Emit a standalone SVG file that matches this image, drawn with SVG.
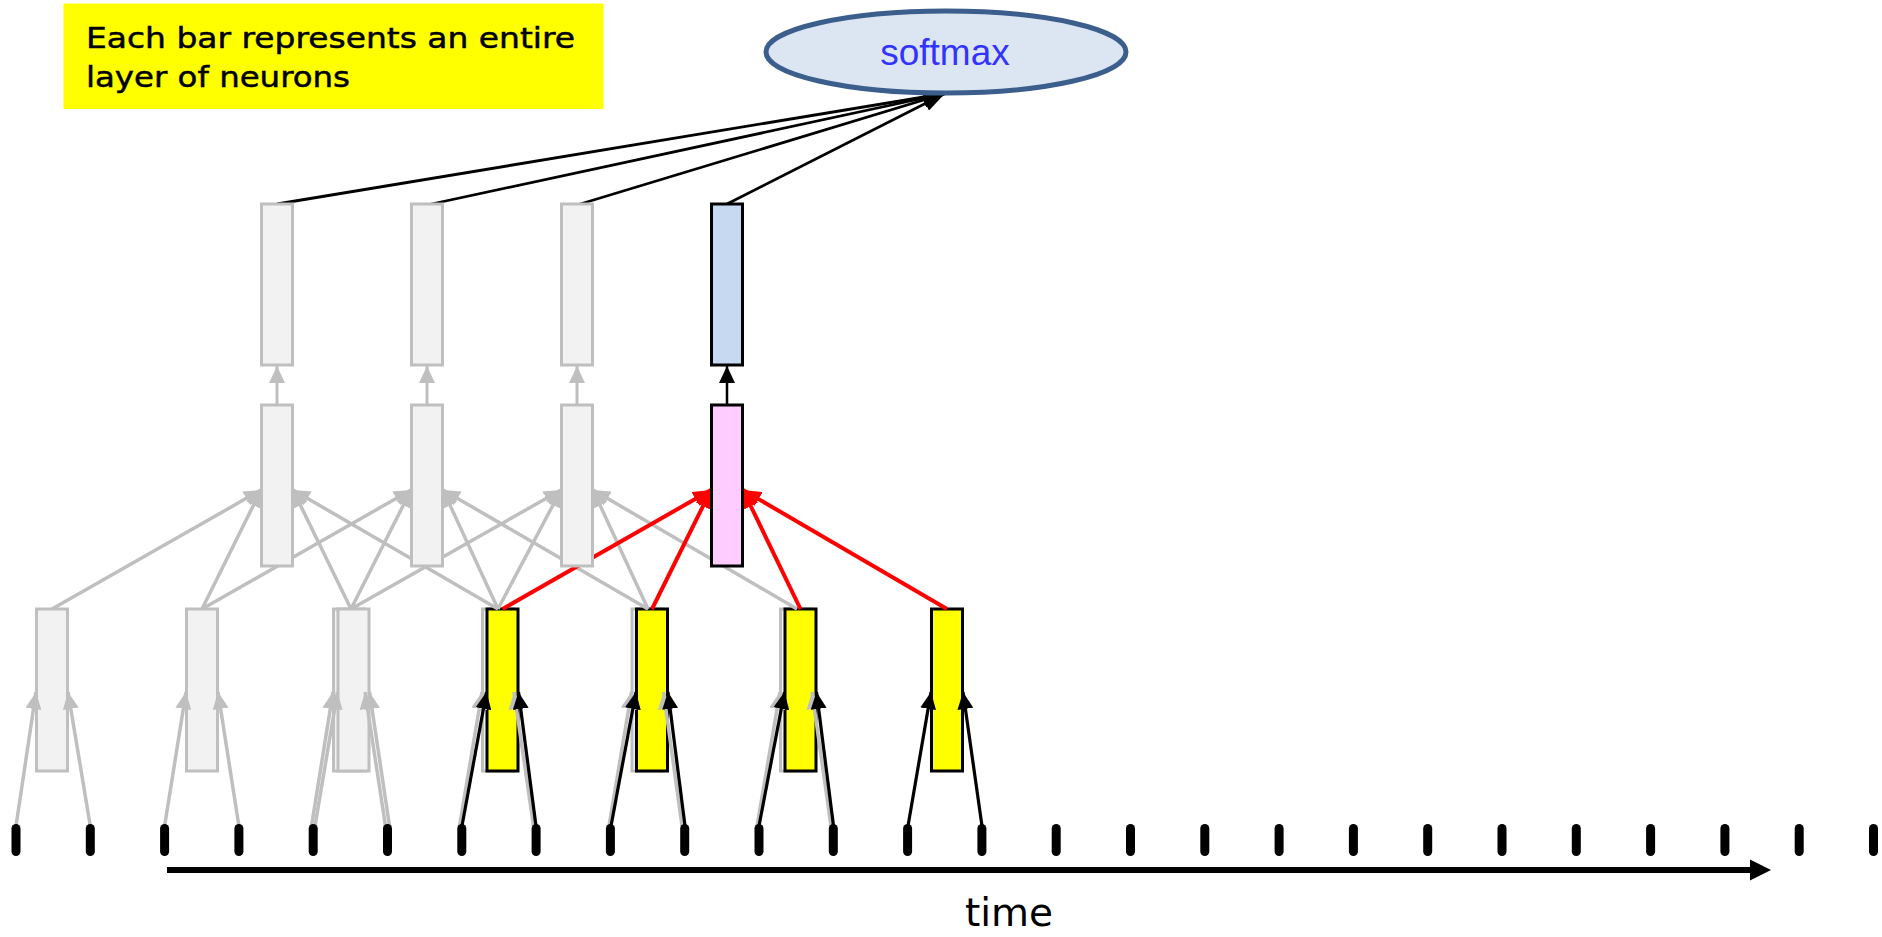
<svg xmlns="http://www.w3.org/2000/svg" width="1882" height="937" viewBox="0 0 1882 937">
<defs>
<style>
.gbar{fill:#F2F2F2;stroke:#BFBFBF;stroke-width:3}
.ybar{fill:#FFFF00;stroke:#000;stroke-width:3}
.pbar{fill:#FFCCFF;stroke:#000;stroke-width:3}
.bbar{fill:#C6D9F1;stroke:#000;stroke-width:3}
.gl{stroke:#BFBFBF;stroke-width:3.5;fill:none;marker-end:url(#ag)}
.kl{stroke:#000;stroke-width:3.2;fill:none;marker-end:url(#ak)}
.rl{stroke:#FF0000;stroke-width:4;fill:none;marker-end:url(#ar)}
.sl{stroke:#000;stroke-width:2.8;fill:none;marker-end:url(#as)}
.tick{stroke:#000;stroke-width:9;stroke-linecap:round}
</style>
<marker id="ag" viewBox="0 0 17 16" refX="17" refY="8" markerWidth="17" markerHeight="16" markerUnits="userSpaceOnUse" orient="auto"><path d="M0,0 L17,8 L0,16 z" fill="#BFBFBF"/></marker>
<marker id="ak" viewBox="0 0 17 16" refX="17" refY="8" markerWidth="17" markerHeight="16" markerUnits="userSpaceOnUse" orient="auto"><path d="M0,0 L17,8 L0,16 z" fill="#000"/></marker>
<marker id="ar" viewBox="0 0 18 16" refX="18" refY="8" markerWidth="18" markerHeight="16" markerUnits="userSpaceOnUse" orient="auto"><path d="M0,0 L18,8 L0,16 z" fill="#FF0000"/></marker>
<marker id="as" viewBox="0 0 22 16" refX="22" refY="8" markerWidth="22" markerHeight="16" markerUnits="userSpaceOnUse" orient="auto"><path d="M0,0 L22,8 L0,16 z" fill="#000"/></marker>
</defs>
<rect width="1882" height="937" fill="#fff"/>

<g id="label">
<rect x="63.5" y="3.5" width="540" height="105.5" fill="#FFFF00"/>
<text font-family="'DejaVu Sans', sans-serif" font-size="29" fill="#000" stroke="#000" stroke-width="0.5"><tspan x="86" y="48" textLength="489" lengthAdjust="spacingAndGlyphs">Each bar represents an entire</tspan><tspan x="86" y="87" textLength="264" lengthAdjust="spacingAndGlyphs">layer of neurons</tspan></text>
</g>

<g id="input-bars">
<rect id="in0" class="gbar" x="36.5" y="609" width="31" height="162"/>
<rect id="in1" class="gbar" x="186.5" y="609" width="31" height="162"/>
<rect id="in2a" class="gbar" x="333.5" y="609" width="31" height="162"/>
<rect id="in2b" class="gbar" x="338" y="609" width="31" height="162"/>
<rect id="in3g" class="gbar" x="482.5" y="609" width="31" height="162"/>
<rect id="in4g" class="gbar" x="632" y="609" width="31" height="162"/>
<rect id="in5g" class="gbar" x="780.5" y="609" width="31" height="162"/>
<rect id="in3" class="ybar" x="487" y="609" width="31" height="162"/>
<rect id="in4" class="ybar" x="636.5" y="609" width="31" height="162"/>
<rect id="in5" class="ybar" x="785" y="609" width="31" height="162"/>
<rect id="in6" class="ybar" x="931.5" y="609" width="31" height="162"/>
</g>

<g id="connectors">
<!-- input arrows (gray copies) -->
<line class="gl" x1="16" y1="826" x2="36" y2="692"/>
<line class="gl" x1="90.3" y1="826" x2="68" y2="692"/>
<line class="gl" x1="164.6" y1="826" x2="186" y2="692"/>
<line class="gl" x1="238.9" y1="826" x2="218" y2="692"/>
<line class="gl" x1="311.5" y1="826" x2="333" y2="692"/>
<line class="gl" x1="315" y1="826" x2="337.5" y2="692"/>
<line class="gl" x1="385.5" y1="826" x2="365" y2="692"/>
<line class="gl" x1="389.5" y1="826" x2="369.5" y2="692"/>
<line class="gl" x1="459.5" y1="826" x2="482" y2="692"/>
<line class="gl" x1="533.5" y1="826" x2="514" y2="692"/>
<line class="gl" x1="609" y1="826" x2="631.5" y2="692"/>
<line class="gl" x1="682" y1="826" x2="663.5" y2="692"/>
<line class="gl" x1="757" y1="826" x2="780" y2="692"/>
<line class="gl" x1="831" y1="826" x2="812" y2="692"/>
<!-- input arrows (black) -->
<line class="kl" x1="462" y1="826" x2="486.5" y2="692"/>
<line class="kl" x1="536" y1="826" x2="518.5" y2="692"/>
<line class="kl" x1="611" y1="826" x2="636" y2="692"/>
<line class="kl" x1="685" y1="826" x2="668" y2="692"/>
<line class="kl" x1="759" y1="826" x2="784.5" y2="692"/>
<line class="kl" x1="833.5" y1="826" x2="816.5" y2="692"/>
<line class="kl" x1="908" y1="826" x2="931" y2="692"/>
<line class="kl" x1="982" y1="826" x2="963" y2="692"/>
<!-- window connections (gray) -->
<line class="gl" x1="52" y1="609" x2="261" y2="490"/>
<line class="gl" x1="202" y1="609" x2="261" y2="490"/>
<line class="gl" x1="351" y1="609" x2="293" y2="490"/>
<line class="gl" x1="498" y1="609" x2="293" y2="490"/>
<line class="gl" x1="202" y1="609" x2="411" y2="490"/>
<line class="gl" x1="351" y1="609" x2="411" y2="490"/>
<line class="gl" x1="498" y1="609" x2="443" y2="490"/>
<line class="gl" x1="648" y1="609" x2="443" y2="490"/>
<line class="gl" x1="351" y1="609" x2="561" y2="490"/>
<line class="gl" x1="498" y1="609" x2="561" y2="490"/>
<line class="gl" x1="648" y1="609" x2="593" y2="490"/>
<line class="gl" x1="797" y1="609" x2="593" y2="490"/>
<!-- window connections (red) -->
<line class="rl" x1="502.5" y1="609" x2="711" y2="490"/>
<line class="rl" x1="652" y1="609" x2="711" y2="490"/>
<line class="rl" x1="800.5" y1="609" x2="743" y2="490"/>
<line class="rl" x1="947" y1="609" x2="743" y2="490"/>
<!-- hidden to output -->
<line class="gl" x1="277" y1="405" x2="277" y2="366" style="stroke-width:3"/>
<line class="gl" x1="427" y1="405" x2="427" y2="366" style="stroke-width:3"/>
<line class="gl" x1="577" y1="405" x2="577" y2="366" style="stroke-width:3"/>
<line class="kl" x1="727" y1="405" x2="727" y2="366" style="stroke-width:2.5"/>
<!-- output to softmax -->
<line class="sl" x1="277" y1="204" x2="945" y2="93.5"/>
<line class="sl" x1="427" y1="205" x2="945" y2="93.5"/>
<line class="sl" x1="577" y1="205" x2="945" y2="93.5"/>
<line class="sl" x1="727" y1="204" x2="945" y2="93.5"/>
</g>

<g id="hidden-bars">
<rect id="h0" class="gbar" x="261.5" y="405" width="31" height="161"/>
<rect id="h1" class="gbar" x="411.5" y="405" width="31" height="161"/>
<rect id="h2" class="gbar" x="561.5" y="405" width="31" height="161"/>
<rect id="h3" class="pbar" x="711.5" y="405" width="31" height="161"/>
</g>

<g id="output-bars">
<rect id="o0" class="gbar" x="261.5" y="204" width="31" height="161"/>
<rect id="o1" class="gbar" x="411.5" y="204" width="31" height="161"/>
<rect id="o2" class="gbar" x="561.5" y="204" width="31" height="161"/>
<rect id="o3" class="bbar" x="711.5" y="204" width="31" height="161"/>
</g>

<g id="softmax">
<ellipse cx="946" cy="52" rx="180" ry="41" fill="#DCE6F2" stroke="#3B5E8C" stroke-width="5"/>
<text x="945" y="65" text-anchor="middle" font-family="'Liberation Sans', Arial, sans-serif" font-size="37" fill="#3333FF">softmax</text>
</g>

<g id="timeline">
<g class="tick">
<line x1="16" y1="828.5" x2="16" y2="851.5"/>
<line x1="90.3" y1="828.5" x2="90.3" y2="851.5"/>
<line x1="164.6" y1="828.5" x2="164.6" y2="851.5"/>
<line x1="238.9" y1="828.5" x2="238.9" y2="851.5"/>
<line x1="313.2" y1="828.5" x2="313.2" y2="851.5"/>
<line x1="387.5" y1="828.5" x2="387.5" y2="851.5"/>
<line x1="461.8" y1="828.5" x2="461.8" y2="851.5"/>
<line x1="536.1" y1="828.5" x2="536.1" y2="851.5"/>
<line x1="610.4" y1="828.5" x2="610.4" y2="851.5"/>
<line x1="684.7" y1="828.5" x2="684.7" y2="851.5"/>
<line x1="759" y1="828.5" x2="759" y2="851.5"/>
<line x1="833.3" y1="828.5" x2="833.3" y2="851.5"/>
<line x1="907.6" y1="828.5" x2="907.6" y2="851.5"/>
<line x1="981.9" y1="828.5" x2="981.9" y2="851.5"/>
<line x1="1056.2" y1="828.5" x2="1056.2" y2="851.5"/>
<line x1="1130.5" y1="828.5" x2="1130.5" y2="851.5"/>
<line x1="1204.8" y1="828.5" x2="1204.8" y2="851.5"/>
<line x1="1279.1" y1="828.5" x2="1279.1" y2="851.5"/>
<line x1="1353.4" y1="828.5" x2="1353.4" y2="851.5"/>
<line x1="1427.7" y1="828.5" x2="1427.7" y2="851.5"/>
<line x1="1502" y1="828.5" x2="1502" y2="851.5"/>
<line x1="1576.3" y1="828.5" x2="1576.3" y2="851.5"/>
<line x1="1650.6" y1="828.5" x2="1650.6" y2="851.5"/>
<line x1="1724.9" y1="828.5" x2="1724.9" y2="851.5"/>
<line x1="1799.2" y1="828.5" x2="1799.2" y2="851.5"/>
<line x1="1873.5" y1="828.5" x2="1873.5" y2="851.5"/>
</g>
<line x1="167" y1="870" x2="1752" y2="870" stroke="#000" stroke-width="6"/>
<polygon points="1750,859.5 1771,870 1750,880.5" fill="#000"/>
<text x="1009" y="926" text-anchor="middle" font-family="'DejaVu Sans', sans-serif" font-size="39" fill="#000">time</text>
</g>
</svg>
